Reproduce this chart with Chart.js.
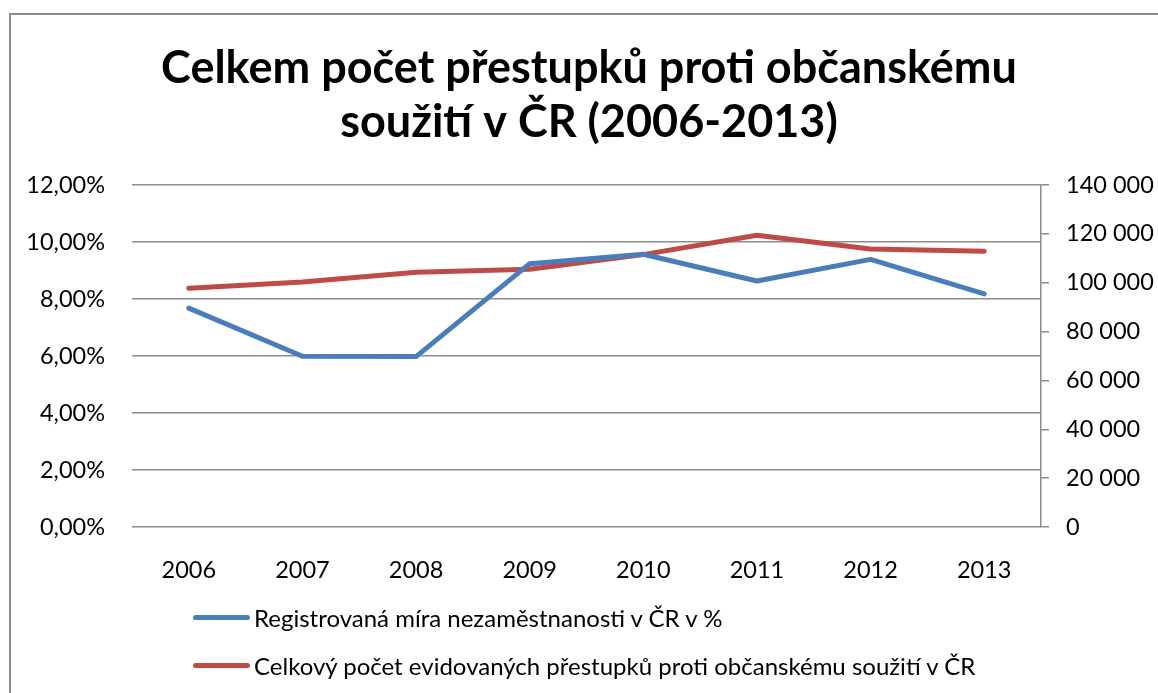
<!DOCTYPE html>
<html lang="cs">
<head>
    <meta charset="UTF-8">
    <title>Celkem počet přestupků proti občanskému soužití v ČR</title>
    <script src="https://cdn.jsdelivr.net/npm/chart.js"></script>
    <style>
        html, body { margin: 0; padding: 0; background: #ffffff; }
        body { width: 1158px; height: 693px; overflow: hidden; position: relative; font-family: 'Lato', sans-serif; }
        .frame {
            position: absolute; left: 9px; top: 13px; width: 1200px; height: 760px;
            border: 2px solid #8c8c8c; box-sizing: border-box; pointer-events: none;
        }
        .chart-box { position: absolute; left: 0; top: 0; width: 1158px; height: 693px; }
        .legend { position: absolute; left: 193px; top: 600px; font-size: 24px; color: #000; }
        .legend-item { display: flex; align-items: center; height: 34px; margin-bottom: 14px; }
        .legend-line { width: 57px; height: 5px; border-radius: 3px; margin-right: 4px; }
    </style>
</head>
<body>
    <div class="frame"></div>
    <div class="chart-box"><canvas id="chart" width="1158" height="693"></canvas></div>
    <div class="legend" id="legend"></div>

    <script>
        // hodnoty
        const years = ["2006", "2007", "2008", "2009", "2010", "2011", "2012", "2013"];
        const unemployment = [7.68, 5.99, 5.98, 9.24, 9.57, 8.63, 9.39, 8.18];
        const offences = [97700, 100300, 104300, 105500, 111500, 119400, 113800, 112900];
        const leftTicks = [0, 2, 4, 6, 8, 10, 12];
        const rightTicks = [0, 20000, 40000, 60000, 80000, 100000, 120000, 140000];
        const seriesNames = [
            "Registrovaná míra nezaměstnanosti v ČR v %",
            "Celkový počet evidovaných přestupků proti občanskému soužití v ČR"
        ];
        const colors = ["#4a7ebb", "#be4b48"];

        const fontFamily = "'Lato', sans-serif";
        const gridColor = "#8c8c8c";
        const tickSize = 23.5;

        function fmtPercent(v) {
            return v.toFixed(2).replace('.', ',') + '%';
        }
        function fmtThousands(v) {
            return String(v).replace(/\B(?=(\d{3})+(?!\d))/g, ' ');
        }

        const ctx = document.getElementById('chart').getContext('2d');
        new Chart(ctx, {
            type: 'line',
            data: {
                labels: years,
                datasets: [{
                    label: seriesNames[0],
                    data: unemployment,
                    yAxisID: 'y',
                    borderColor: colors[0],
                    backgroundColor: colors[0],
                    borderWidth: 5,
                    borderCapStyle: 'round',
                    borderJoinStyle: 'round',
                    pointRadius: 0,
                    tension: 0
                }, {
                    label: seriesNames[1],
                    data: offences,
                    yAxisID: 'y1',
                    borderColor: colors[1],
                    backgroundColor: colors[1],
                    borderWidth: 5,
                    borderCapStyle: 'round',
                    borderJoinStyle: 'round',
                    pointRadius: 0,
                    tension: 0
                }]
            },
            options: {
                responsive: false,
                animation: false,
                layout: { padding: { left: 20, right: 0, top: 0, bottom: 106 } },
                scales: {
                    x: {
                        offset: true,
                        grid: { display: false },
                        border: { display: false },
                        ticks: { color: '#000', padding: 21, font: { family: fontFamily, size: tickSize } },
                        afterFit: function(scale) { scale.height = 60; }
                    },
                    y: {
                        position: 'left',
                        min: 0,
                        max: 12,
                        afterBuildTicks: function(scale) { scale.ticks = leftTicks.map(v => ({ value: v })); },
                        grid: { color: gridColor, lineWidth: 1.5, drawTicks: false },
                        border: { display: false },
                        ticks: {
                            color: '#000', padding: 27,
                            font: { family: fontFamily, size: tickSize },
                            callback: v => fmtPercent(v)
                        },
                        afterFit: function(scale) { scale.width = 112; }
                    },
                    y1: {
                        position: 'right',
                        min: 0,
                        max: 140000,
                        afterBuildTicks: function(scale) { scale.ticks = rightTicks.map(v => ({ value: v })); },
                        grid: { drawOnChartArea: false, color: gridColor, lineWidth: 1.5, tickLength: 8 },
                        border: { display: true, color: gridColor, width: 1.5 },
                        ticks: {
                            color: '#000', padding: 17,
                            font: { family: fontFamily, size: tickSize },
                            callback: v => fmtThousands(v)
                        },
                        afterFit: function(scale) { scale.width = 117; }
                    }
                },
                plugins: {
                    legend: { display: false },
                    tooltip: { enabled: false },
                    title: {
                        display: true,
                        text: ["Celkem počet přestupků proti občanskému", "soužití v ČR (2006-2013)"],
                        color: '#000',
                        font: { family: fontFamily, size: 45, weight: 'bold', lineHeight: 1.2 },
                        padding: { top: 41, bottom: 36 }
                    }
                }
            }
        });

        // legenda pod grafem, položky pod sebou
        const legend = document.getElementById('legend');
        seriesNames.forEach((name, i) => {
            const item = document.createElement('div');
            item.className = 'legend-item';
            const line = document.createElement('span');
            line.className = 'legend-line';
            line.style.background = colors[i];
            const text = document.createElement('span');
            text.textContent = name;
            item.appendChild(line);
            item.appendChild(text);
            legend.appendChild(item);
        });
    </script>
</body>
</html>
